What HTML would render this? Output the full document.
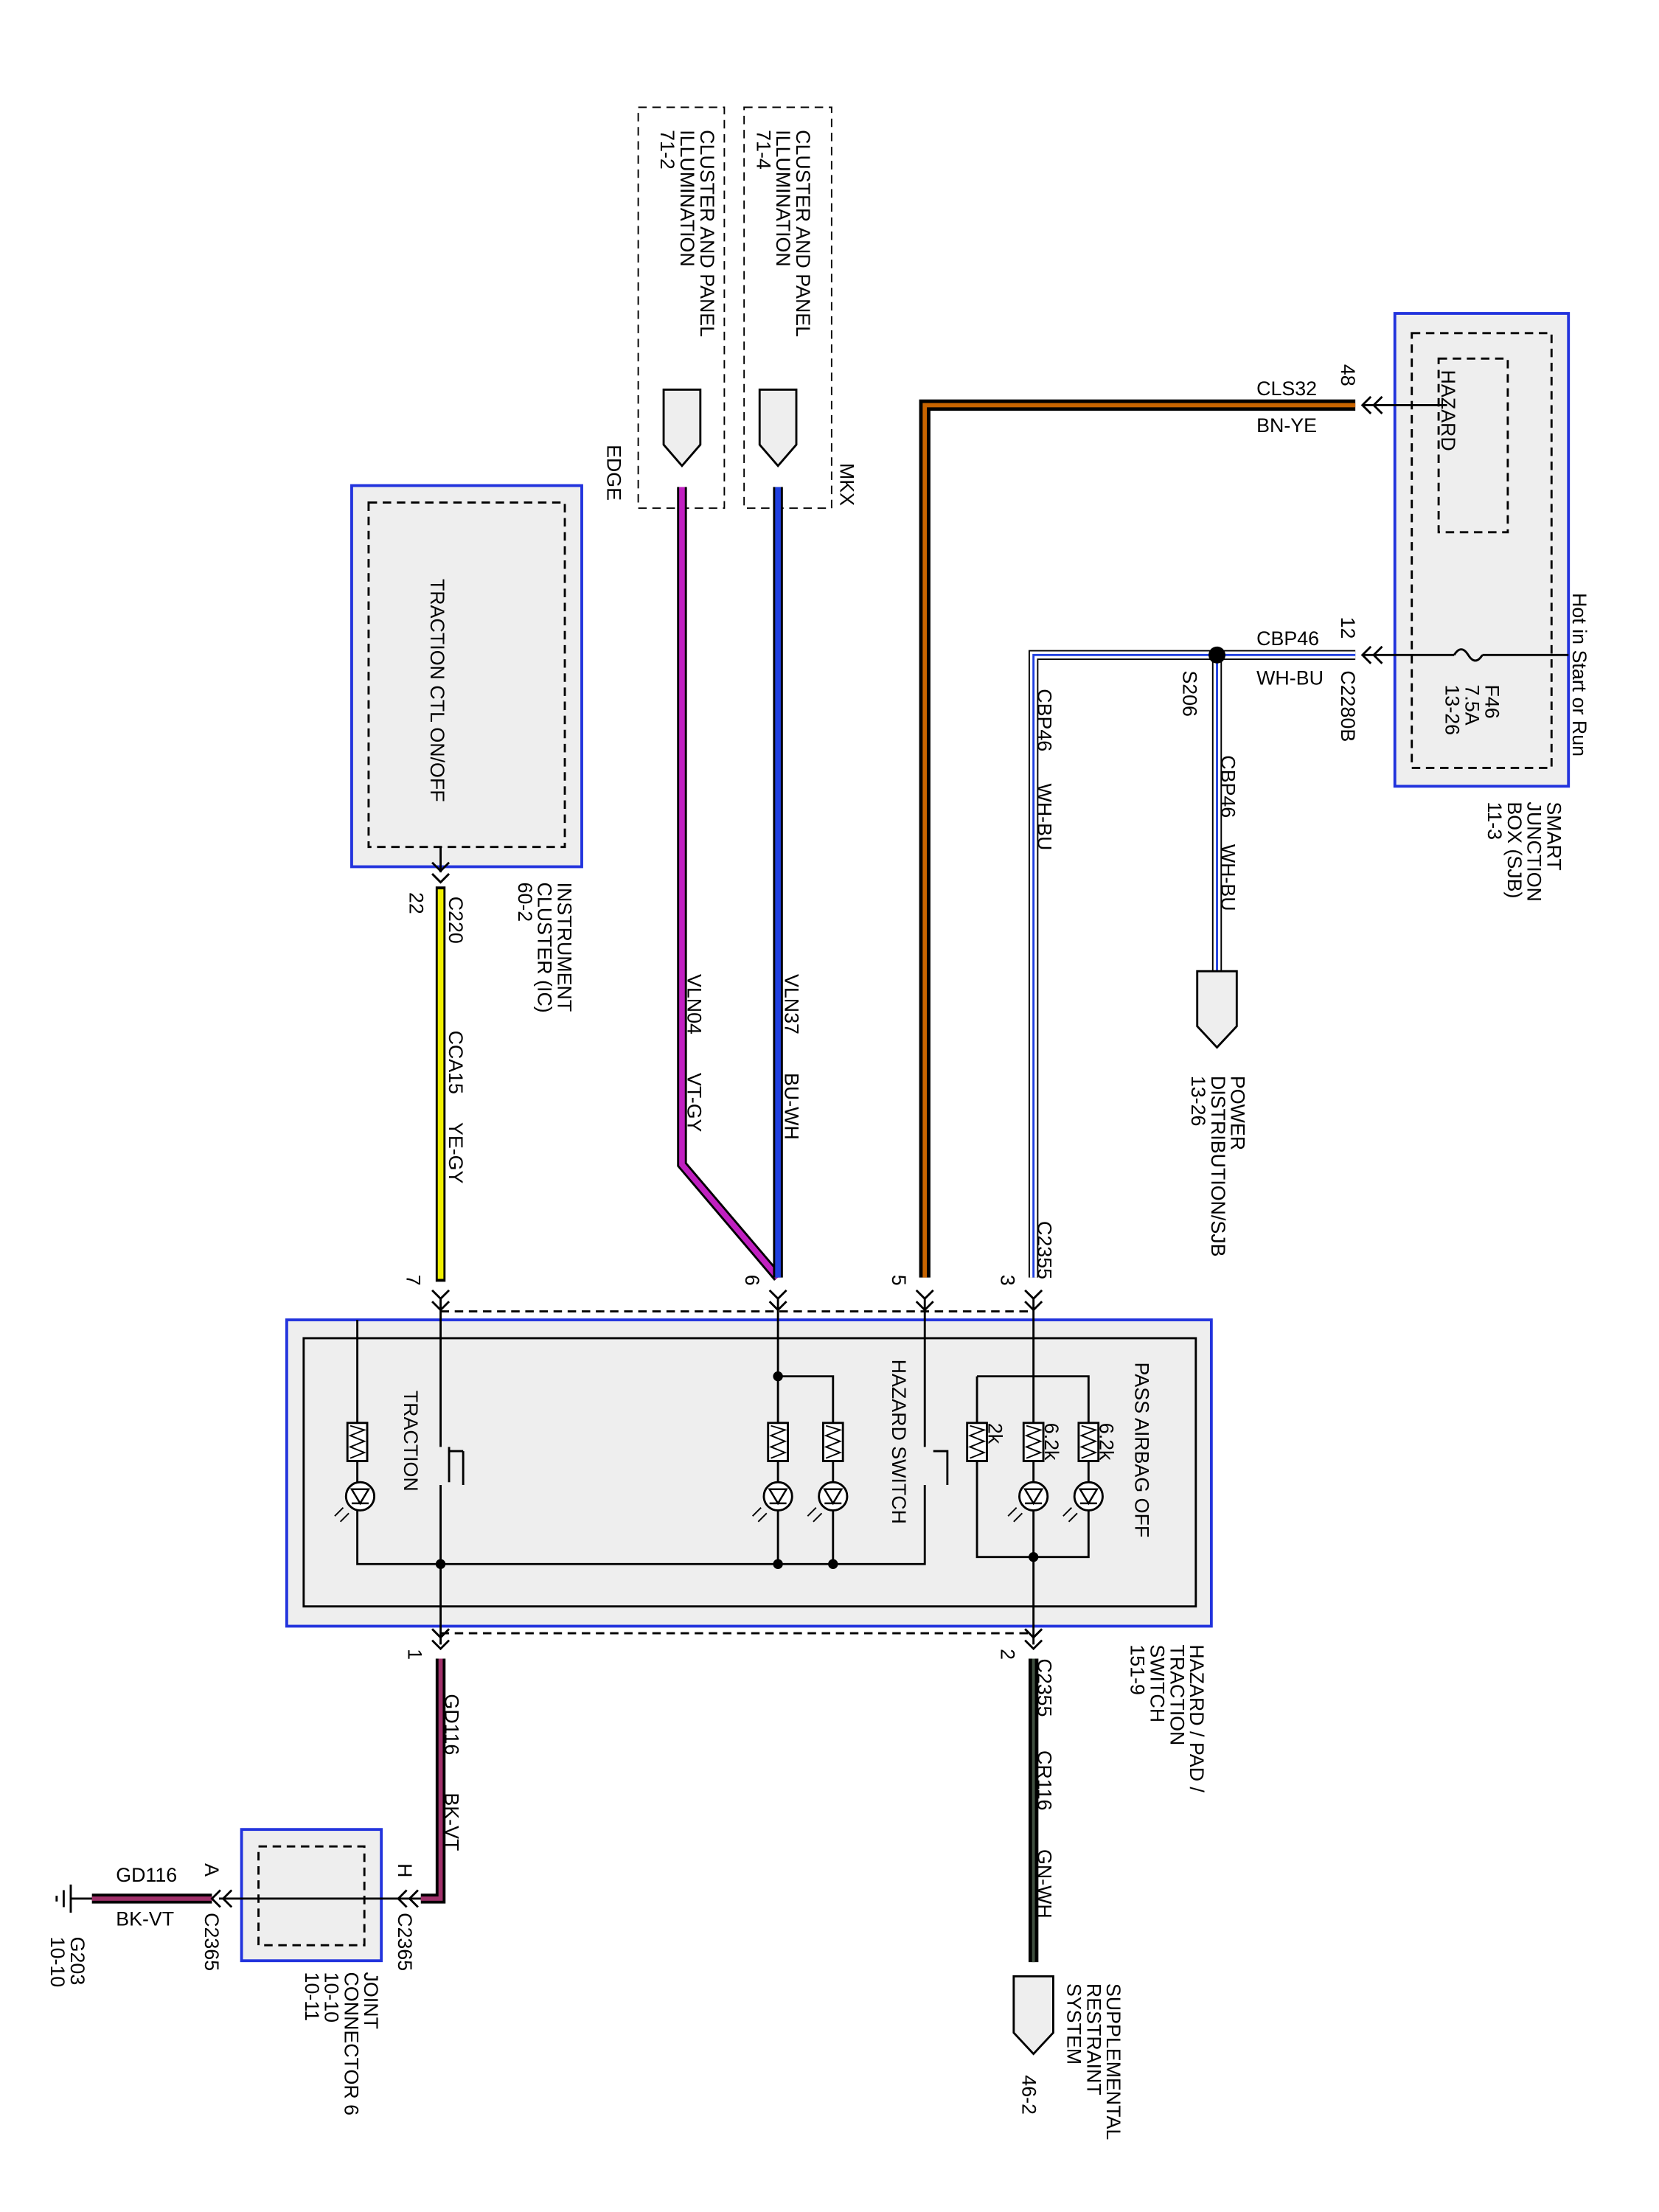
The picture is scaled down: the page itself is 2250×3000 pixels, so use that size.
<!DOCTYPE html>
<html><head><meta charset="utf-8"><style>html,body{margin:0;padding:0;background:#fff}svg{display:block}</style></head>
<body>
<svg width="2250" height="3000" viewBox="0 0 1175 1567" xmlns="http://www.w3.org/2000/svg" font-family="Liberation Sans, sans-serif" font-size="14">
<rect width="1175" height="1567" fill="#fff"/>
<defs>
<g id="arr"><path d="M-6,-6 L0,0 L6,-6" fill="none" stroke="#000" stroke-width="1.5"/><path d="M-6,2 L0,8 L6,2" fill="none" stroke="#000" stroke-width="1.5"/></g>
<g id="res"><rect x="-7" y="0" width="14" height="27" fill="#fff" stroke="#000" stroke-width="1.5"/><path d="M-5,2 L5,5 L-5,9 L5,13 L-5,17 L5,21 L-5,25" fill="none" stroke="#000" stroke-width="1"/></g>
<g id="led"><circle r="10" fill="#fff" stroke="#000" stroke-width="1.5"/><path d="M-6,-5 H6 L0,5 Z M-6,5 H6" fill="none" stroke="#000" stroke-width="1.3"/><path d="M-12,8 l-6,6 M-8,12 l-6,6" stroke="#000" stroke-width="1"/></g>
</defs>
<rect x="452" y="76" width="61" height="284" fill="none" stroke="#000" stroke-dasharray="6,4"/>
<rect x="527" y="76" width="62" height="284" fill="none" stroke="#000" stroke-dasharray="6,4"/>
<path d="M470,276 H496 V315 L483,330 L470,315 Z" fill="#eee" stroke="#000" stroke-width="1.5"/>
<path d="M538,276 H564 V315 L551,330 L538,315 Z" fill="#eee" stroke="#000" stroke-width="1.5"/>
<path d="M483,345 V825 L551,905" fill="none" stroke="#000" stroke-width="7"/>
<path d="M483,345 V825 L551,905" fill="none" stroke="#c020c0" stroke-width="4"/>
<path d="M551,345 V905" stroke="#000" stroke-width="7"/>
<path d="M551,345 V905" stroke="#2040e0" stroke-width="4"/>
<rect x="249" y="344" width="163" height="270" fill="#eee" stroke="#2233dd" stroke-width="2"/>
<rect x="261" y="356" width="139" height="244" fill="none" stroke="#000" stroke-dasharray="6,4" stroke-width="1.5"/>
<path d="M312,600 V618" stroke="#000" stroke-width="1.5"/>
<path d="M312,628 V908" stroke="#000" stroke-width="7"/>
<path d="M312,630 V906" stroke="#f0f000" stroke-width="4"/>
<use href="#arr" x="312" y="617"/>
<path d="M960,287 H655 V905" fill="none" stroke="#000" stroke-width="8"/>
<path d="M960,287 H655 V905" fill="none" stroke="#c86400" stroke-width="3"/>
<rect x="988" y="222" width="123" height="335" fill="#eee" stroke="#2233dd" stroke-width="2"/>
<rect x="1000" y="236" width="99" height="308" fill="none" stroke="#000" stroke-dasharray="6,4" stroke-width="1.5"/>
<rect x="1019" y="254" width="49" height="123" fill="none" stroke="#000" stroke-dasharray="6,4" stroke-width="1.5"/>
<path d="M965,287 H1025" stroke="#000" stroke-width="1.5"/>
<path d="M965,464 H1030 M1050,464 H1111" stroke="#000" stroke-width="1.5"/>
<path d="M1030,464 q5,-8 10,0 q5,8 10,0" fill="none" stroke="#000" stroke-width="1.5"/>
<use href="#arr" x="973" y="287" transform="rotate(90 973 287)"/>
<use href="#arr" x="973" y="464" transform="rotate(90 973 464)"/>
<path d="M960,464 H732 V905" fill="none" stroke="#000" stroke-width="7"/>
<path d="M960,464 H732 V905" fill="none" stroke="#fff" stroke-width="5"/>
<path d="M960,464 H732 V905" fill="none" stroke="#2040e0" stroke-width="1.5"/>
<path d="M862,464 V690" stroke="#000" stroke-width="7"/>
<path d="M862,464 V690" stroke="#fff" stroke-width="5"/>
<path d="M862,464 V690" stroke="#2040e0" stroke-width="1.5"/>
<circle cx="862" cy="464" r="6" fill="#000"/>
<path d="M848,688 H876 V727 L862,742 L848,727 Z" fill="#eee" stroke="#000" stroke-width="1.5"/>
<path d="M312,929 H732 M312,1157 H732" stroke="#000" stroke-width="1.5" stroke-dasharray="6,4"/>
<rect x="203" y="935" width="655" height="217" fill="#eee" stroke="#2233dd" stroke-width="2"/>
<rect x="215" y="948" width="632" height="190" fill="#eee" stroke="#000" stroke-width="1.5"/>
<use href="#arr" x="312" y="920"/><use href="#arr" x="551" y="920"/><use href="#arr" x="655" y="920"/><use href="#arr" x="732" y="920"/>
<use href="#arr" x="312" y="1160"/><use href="#arr" x="732" y="1160"/>
<g stroke="#000" stroke-width="1.5" fill="none">
<path d="M312,920 V1025 M318,1028 H328 M328,1028 V1052 M318,1050 V1025 M312,1052 V1165"/>
<path d="M253,935 V1008 M253,1035 V1108 H655 V1052 M655,920 V1025 M661,1028 H671 V1052"/>
<path d="M551,920 V1008 M551,975 H590 V1008 M551,1035 V1108 M590,1035 V1108"/>
<path d="M732,920 V1165 M692,975 H771 V1008 M692,975 V1008 M771,1035 V1103 H692 V1035"/>
</g>
<use href="#res" x="253" y="1008"/><use href="#res" x="551" y="1008"/><use href="#res" x="590" y="1008"/>
<use href="#res" x="692" y="1008"/><use href="#res" x="732" y="1008"/><use href="#res" x="771" y="1008"/>
<use href="#led" x="255" y="1060"/><use href="#led" x="551" y="1060"/><use href="#led" x="590" y="1060"/><use href="#led" x="732" y="1060"/><use href="#led" x="771" y="1060"/>
<g fill="#000"><circle cx="312" cy="1108" r="3.5"/><circle cx="551" cy="1108" r="3.5"/><circle cx="590" cy="1108" r="3.5"/><circle cx="551" cy="975" r="3.5"/><circle cx="732" cy="1103" r="3.5"/></g>
<path d="M312,1175 V1345 H298" fill="none" stroke="#000" stroke-width="7"/>
<path d="M312,1175 V1345 H298" fill="none" stroke="#a0306a" stroke-width="3"/>
<path d="M732,1175 V1390" stroke="#000" stroke-width="7"/>
<path d="M732,1175 V1390" stroke="#405040" stroke-width="2"/>
<path d="M718,1400 H746 V1440 L732,1455 L718,1440 Z" fill="#eee" stroke="#000" stroke-width="1.5"/>
<rect x="171" y="1296" width="99" height="93" fill="#eee" stroke="#2233dd" stroke-width="2"/>
<rect x="183" y="1308" width="75" height="70" fill="none" stroke="#000" stroke-dasharray="6,4" stroke-width="1.5"/>
<path d="M155,1345 H298" stroke="#000" stroke-width="1.5"/>
<path d="M150,1345 H65" stroke="#000" stroke-width="7"/>
<path d="M150,1345 H65" stroke="#a0306a" stroke-width="3"/>
<path d="M65,1345 H50 M50,1335 V1355 M45,1339 V1351 M40,1343 V1347" stroke="#000" stroke-width="1.5"/>
<use href="#arr" x="290" y="1345" transform="rotate(90 290 1345)"/>
<use href="#arr" x="158" y="1345" transform="rotate(90 158 1345)"/>
<g font-size="14"><text x="890" y="280">CLS32</text><text x="890" y="306">BN-YE</text><text x="890" y="457">CBP46</text><text x="890" y="485">WH-BU</text>
<text x="82" y="1333">GD116</text><text x="82" y="1364">BK-VT</text></g>
<g font-size="14">
<text transform="translate(305,410) rotate(90)">TRACTION CTL ON/OFF</text>
<text transform="translate(395,625) rotate(90)">INSTRUMENT</text>
<text transform="translate(381,625) rotate(90)">CLUSTER (IC)</text>
<text transform="translate(367,625) rotate(90)">60-2</text>
<text transform="translate(318,635) rotate(90)">C220</text>
<text transform="translate(290,632) rotate(90)">22</text>
<text transform="translate(318,730) rotate(90)">CCA15</text>
<text transform="translate(318,795) rotate(90)">YE-GY</text>
<text transform="translate(496,92) rotate(90)">CLUSTER AND PANEL</text>
<text transform="translate(482,92) rotate(90)">ILLUMINATION</text>
<text transform="translate(468,92) rotate(90)">71-2</text>
<text transform="translate(564,92) rotate(90)">CLUSTER AND PANEL</text>
<text transform="translate(550,92) rotate(90)">ILLUMINATION</text>
<text transform="translate(536,92) rotate(90)">71-4</text>
<text transform="translate(430,315) rotate(90)">EDGE</text>
<text transform="translate(595,328) rotate(90)">MKX</text>
<text transform="translate(556,690) rotate(90)">VLN37</text>
<text transform="translate(556,760) rotate(90)">BU-WH</text>
<text transform="translate(487,690) rotate(90)">VLN04</text>
<text transform="translate(487,760) rotate(90)">VT-GY</text>
<text transform="translate(1021,262) rotate(90)">HAZARD</text>
<text transform="translate(1052,485) rotate(90)">F46</text>
<text transform="translate(1038,485) rotate(90)">7.5A</text>
<text transform="translate(1024,485) rotate(90)">13-26</text>
<text transform="translate(1114,420) rotate(90)">Hot in Start or Run</text>
<text transform="translate(1096,568) rotate(90)">SMART</text>
<text transform="translate(1082,568) rotate(90)">JUNCTION</text>
<text transform="translate(1068,568) rotate(90)">BOX (SJB)</text>
<text transform="translate(1054,568) rotate(90)">11-3</text>
<text transform="translate(950,258) rotate(90)">48</text>
<text transform="translate(950,437) rotate(90)">12</text>
<text transform="translate(950,475) rotate(90)">C2280B</text>
<text transform="translate(838,475) rotate(90)">S206</text>
<text transform="translate(735,488) rotate(90)">CBP46</text>
<text transform="translate(735,555) rotate(90)">WH-BU</text>
<text transform="translate(865,535) rotate(90)">CBP46</text>
<text transform="translate(865,598) rotate(90)">WH-BU</text>
<text transform="translate(872,762) rotate(90)">POWER</text>
<text transform="translate(858,762) rotate(90)">DISTRIBUTION/SJB</text>
<text transform="translate(844,762) rotate(90)">13-26</text>
<text transform="translate(735,865) rotate(90)">C2355</text>
<text transform="translate(288,903) rotate(90)">7</text>
<text transform="translate(528,903) rotate(90)">6</text>
<text transform="translate(632,903) rotate(90)">5</text>
<text transform="translate(709,903) rotate(90)">3</text>
<text transform="translate(804,965) rotate(90)">PASS AIRBAG OFF</text>
<text transform="translate(779,1008) rotate(90)">6.2k</text>
<text transform="translate(740,1008) rotate(90)">6.2k</text>
<text transform="translate(700,1008) rotate(90)">2k</text>
<text transform="translate(632,963) rotate(90)">HAZARD SWITCH</text>
<text transform="translate(286,985) rotate(90)">TRACTION</text>
<text transform="translate(289,1168) rotate(90)">1</text>
<text transform="translate(709,1168) rotate(90)">2</text>
<text transform="translate(735,1175) rotate(90)">C2355</text>
<text transform="translate(735,1240) rotate(90)">CR116</text>
<text transform="translate(735,1310) rotate(90)">GN-WH</text>
<text transform="translate(315,1200) rotate(90)">GD116</text>
<text transform="translate(315,1270) rotate(90)">BK-VT</text>
<text transform="translate(843,1165) rotate(90)">HAZARD / PAD /</text>
<text transform="translate(829,1165) rotate(90)">TRACTION</text>
<text transform="translate(815,1165) rotate(90)">SWITCH</text>
<text transform="translate(801,1165) rotate(90)">151-9</text>
<text transform="translate(784,1405) rotate(90)">SUPPLEMENTAL</text>
<text transform="translate(770,1405) rotate(90)">RESTRAINT</text>
<text transform="translate(756,1405) rotate(90)">SYSTEM</text>
<text transform="translate(724,1470) rotate(90)">46-2</text>
<text transform="translate(258,1397) rotate(90)">JOINT</text>
<text transform="translate(244,1397) rotate(90)">CONNECTOR 6</text>
<text transform="translate(230,1397) rotate(90)">10-10</text>
<text transform="translate(216,1397) rotate(90)">10-11</text>
<text transform="translate(282,1320) rotate(90)">H</text>
<text transform="translate(282,1355) rotate(90)">C2365</text>
<text transform="translate(145,1320) rotate(90)">A</text>
<text transform="translate(145,1355) rotate(90)">C2365</text>
<text transform="translate(50,1372) rotate(90)">G203</text>
<text transform="translate(36,1372) rotate(90)">10-10</text>
</g>
</svg>
</body></html>
